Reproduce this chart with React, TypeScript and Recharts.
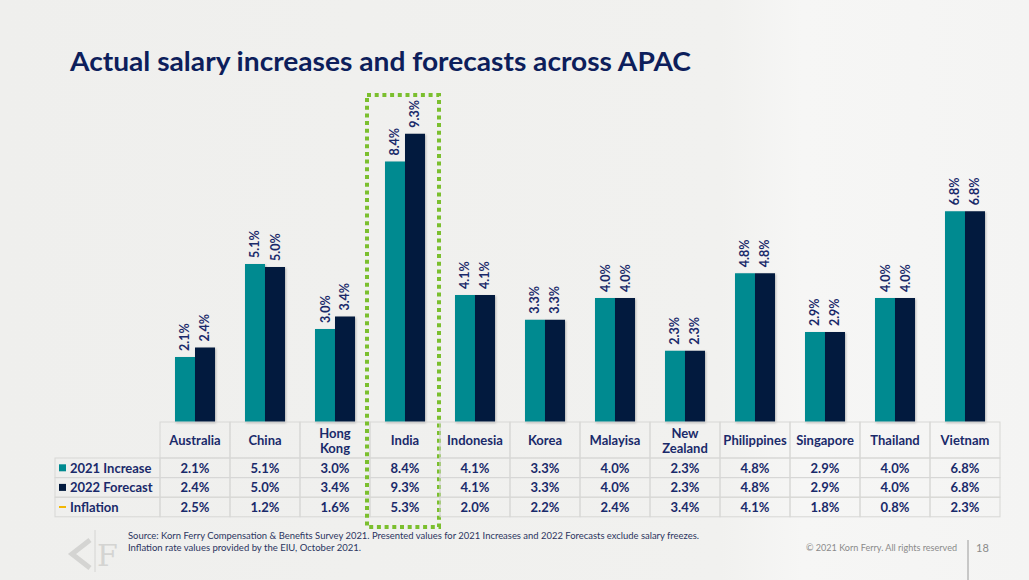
import React from 'react';
import { BarChart, Bar, XAxis, YAxis, LabelList } from 'recharts';

// data
const countries = ['Australia', 'China', 'Hong Kong', 'India', 'Indonesia', 'Korea', 'Malayisa', 'New Zealand', 'Philippines', 'Singapore', 'Thailand', 'Vietnam'];
const increase2021 = [2.1, 5.1, 3.0, 8.4, 4.1, 3.3, 4.0, 2.3, 4.8, 2.9, 4.0, 6.8];
const forecast2022 = [2.4, 5.0, 3.4, 9.3, 4.1, 3.3, 4.0, 2.3, 4.8, 2.9, 4.0, 6.8];
const inflation = [2.5, 1.2, 1.6, 5.3, 2.0, 2.2, 2.4, 3.4, 4.1, 1.8, 0.8, 2.3];
const seriesNames = ['2021 Increase', '2022 Forecast', 'Inflation'];
const highlighted = 'India';

const W = 1029;
const H = 580;
const margin = { top: 112, right: 29, bottom: 58, left: 160 };
const colW = (W - margin.left - margin.right) / countries.length;
const headH = 36;
const rowH = 19.6;

const TEAL = '#008A90';
const NAVY = '#021A3E';
const INK = '#1A2A6A';
const GRID = '#D7D7D5';
const GOLD = '#F2B705';
const FONT = 'Lato, "Open Sans", sans-serif';

const data = countries.map((c, i) => ({
  country: c,
  inc: increase2021[i],
  fc: forecast2022[i],
  infl: inflation[i],
}));

const pct = (v: number) => `${v.toFixed(1)}%`;

function BarLabel(props: any) {
  const { x, y, width, value } = props;
  const cx = x + width / 2;
  const ty = y - 6;
  return (
    <text
      x={cx}
      y={ty}
      transform={`rotate(-90 ${cx} ${ty})`}
      textAnchor="start"
      dominantBaseline="central"
      fill={INK}
      fontSize={12.5}
      fontWeight={700}
      fontFamily={FONT}
    >
      {pct(value)}
    </text>
  );
}

function TableTick(props: any) {
  const { x, y, payload } = props;
  const i = countries.indexOf(payload.value);
  const left = x - colW / 2;
  const lines = countries[i].split(' ');
  const vals = [increase2021[i], forecast2022[i], inflation[i]];
  const swatch = [TEAL, NAVY, GOLD];

  return (
    <g fontFamily={FONT} fontWeight={700} fill={INK}>
      <rect x={left} y={y} width={colW} height={headH} fill="none" stroke={GRID} />
      {lines.map((l, k) => (
        <text
          key={l}
          x={x}
          y={y + headH / 2 + (k - (lines.length - 1) / 2) * 15}
          textAnchor="middle"
          dominantBaseline="central"
          fontSize={13}
        >
          {l}
        </text>
      ))}
      {vals.map((v, r) => (
        <g key={r}>
          <rect x={left} y={y + headH + r * rowH} width={colW} height={rowH} fill="none" stroke={GRID} />
          <text x={x} y={y + headH + r * rowH + rowH / 2} textAnchor="middle" dominantBaseline="central" fontSize={13}>
            {pct(v)}
          </text>
        </g>
      ))}
      {i === 0 &&
        seriesNames.map((s, r) => {
          const ry = y + headH + r * rowH;
          return (
            <g key={s}>
              <rect x={left - 105} y={ry} width={105} height={rowH} fill="none" stroke={GRID} />
              {r < 2 ? (
                <rect x={left - 101} y={ry + rowH / 2 - 3.5} width={7} height={7} fill={swatch[r]} />
              ) : (
                <rect x={left - 101} y={ry + rowH / 2 - 1} width={7} height={2} fill={swatch[r]} />
              )}
              <text x={left - 90} y={ry + rowH / 2} dominantBaseline="central" fontSize={13}>
                {s}
              </text>
            </g>
          );
        })}
      {countries[i] === highlighted && (
        <rect
          x={left - 3}
          y={y - 327}
          width={colW + 2}
          height={432}
          fill="none"
          stroke="#7BBF2E"
          strokeWidth={4}
          strokeDasharray="4 3.7"
        />
      )}
    </g>
  );
}

export default function App() {
  return (
    <div
      style={{
        position: 'absolute',
        left: 0,
        top: 0,
        width: W,
        height: H,
        overflow: 'hidden',
        background: 'linear-gradient(90deg, #EFEFED 0%, #F1F1EF 70%, #F6F6F5 78%, #F4F4F3 100%)',
      }}
    >
      <BarChart width={W} height={H} data={data} margin={margin} barGap={0} barCategoryGap={15}>
        <XAxis
          dataKey="country"
          height={100}
          interval={0}
          axisLine={false}
          tickLine={false}
          tickSize={0}
          tickMargin={0}
          tick={<TableTick />}
        />
        <YAxis hide domain={[0, 10]} />
        <Bar dataKey="inc" name={seriesNames[0]} fill={TEAL} isAnimationActive={false} style={{ filter: 'drop-shadow(1px 1px 1px rgba(0,0,0,0.25))' }}>
          <LabelList dataKey="inc" content={<BarLabel />} />
        </Bar>
        <Bar dataKey="fc" name={seriesNames[1]} fill={NAVY} isAnimationActive={false} style={{ filter: 'drop-shadow(1px 1px 1px rgba(0,0,0,0.25))' }}>
          <LabelList dataKey="fc" content={<BarLabel />} />
        </Bar>
      </BarChart>

      <svg width={W} height={H} style={{ position: 'absolute', left: 0, top: 0, pointerEvents: 'none' }}>
        <text
          x={70}
          y={71}
          fontFamily={FONT}
          fontWeight={700}
          fontSize={27}
          fill="#0D1E5B"
          textLength={621}
          lengthAdjust="spacingAndGlyphs"
        >
          Actual salary increases and forecasts across APAC
        </text>

        {/* KF watermark */}
        <polyline points="90,540 72,554 90,568" fill="none" stroke="#D4D4D2" strokeWidth={5} />
        <line x1={95} y1={530} x2={95} y2={572} stroke="#D4D4D2" strokeWidth={1} />
        <text x={97} y={566} fontFamily="'DejaVu Serif', serif" fontSize={30} fill="#D4D4D2">F</text>

        <g fontFamily={FONT} fontSize={8.6} fill="#2B3460">
          <text x={128} y={539} textLength={571} lengthAdjust="spacingAndGlyphs">
            Source: Korn Ferry Compensation &amp; Benefits Survey 2021. Presented values for 2021 Increases and 2022 Forecasts exclude salary freezes.
          </text>
          <text x={128} y={551} textLength={233} lengthAdjust="spacingAndGlyphs">
            Inflation rate values provided by the EIU, October 2021.
          </text>
        </g>
        <text x={806} y={551} fontFamily={FONT} fontSize={8.6} fill="#8A8A8A" textLength={151} lengthAdjust="spacingAndGlyphs">
          © 2021 Korn Ferry. All rights reserved
        </text>
        <line x1={968} y1={540} x2={968} y2={580} stroke="#9A9A9A" strokeWidth={1} />
        <text x={976} y={552} fontFamily={FONT} fontSize={11} fill="#8A8A8A">18</text>
      </svg>
    </div>
  );
}
